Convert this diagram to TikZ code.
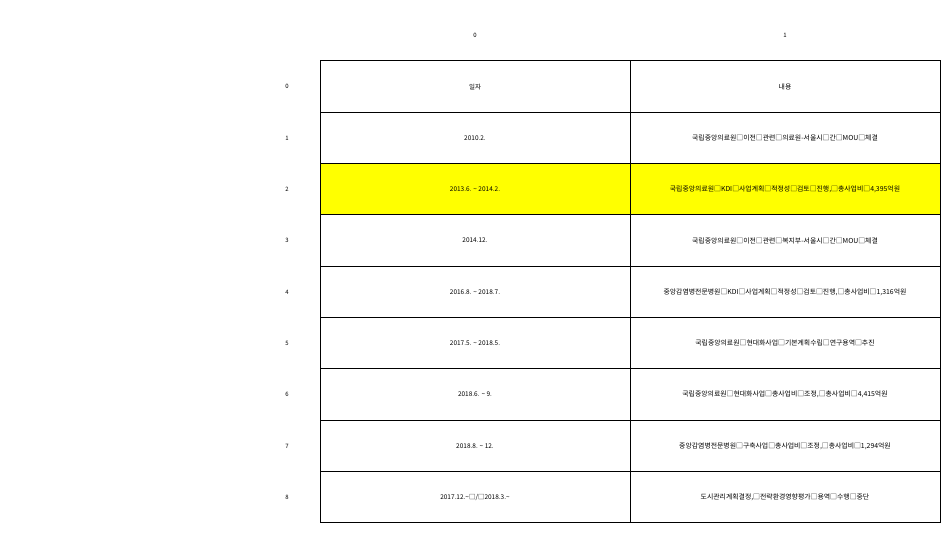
\documentclass[tikz,border=0pt]{standalone}
\usepackage{fontspec}
\setmainfont{Noto Sans CJK KR}
\definecolor{hlyellow}{RGB}{255,255,0}
\begin{document}
\begin{tikzpicture}[x=1bp,y=-1bp,
  cell/.style={draw=black,line width=1bp,minimum width=310bp,minimum height=51.33bp,inner sep=0pt,font=\fontsize{6.5}{7}\selectfont,anchor=center},
  kcell/.style={cell,font=\fontsize{6.9}{8}\selectfont},
  hl/.style={fill=hlyellow},
  idx/.style={font=\fontsize{6}{7}\selectfont,inner sep=0pt}]
\useasboundingbox (0,0) rectangle (950,533);
\def\rowh{51.333}
\node[idx] (h0) at (475,35) {0};
\node[idx] (h1) at (785,35) {1};
\foreach \i/\a/\b in {
 0/일자/내용,
 1/2010.2./국립중앙의료원□이전□관련□의료원-서울시□간□MOU□체결,
 3/2014.12./국립중앙의료원□이전□관련□복지부-서울시□간□MOU□체결,
 4/2016.8. \textasciitilde\ 2018.7./중앙감염병전문병원□KDI□사업계획□적정성□검토□진행{,}□총사업비□1{,}316억원,
 5/2017.5. \textasciitilde\ 2018.5./국립중앙의료원□현대화사업□기본계획수립□연구용역□추진,
 6/2018.6. \textasciitilde\ 9./국립중앙의료원□현대화사업□총사업비□조정{,}□총사업비□4{,}415억원,
 7/2018.8. \textasciitilde\ 12./중앙감염병전문병원□구축사업□총사업비□조정{,}□총사업비□1{,}294억원,
 8/{2017.12.\textasciitilde□/□2018.3.\textasciitilde}/도시관리계획결정{,}□전략환경영향평가□용역□수행□중단}{
  \node[cell] (a\i) at (475,{61+\rowh*(\i+0.5)}) {\a};
  \node[kcell] (b\i) at (785,{61+\rowh*(\i+0.5)}) {\b};
  \node[idx] (r\i) at (287,{61+\rowh*(\i+0.5)}) {\i};
}
\node[cell,hl] (a2) at (475,{61+\rowh*2.5}) {2013.6. \textasciitilde\ 2014.2.};
\node[kcell,hl] (b2) at (785,{61+\rowh*2.5}) {국립중앙의료원□KDI□사업계획□적정성□검토□진행,□총사업비□4,395억원};
\node[idx] (r2) at (287,{61+\rowh*2.5}) {2};
\end{tikzpicture}
\end{document}
